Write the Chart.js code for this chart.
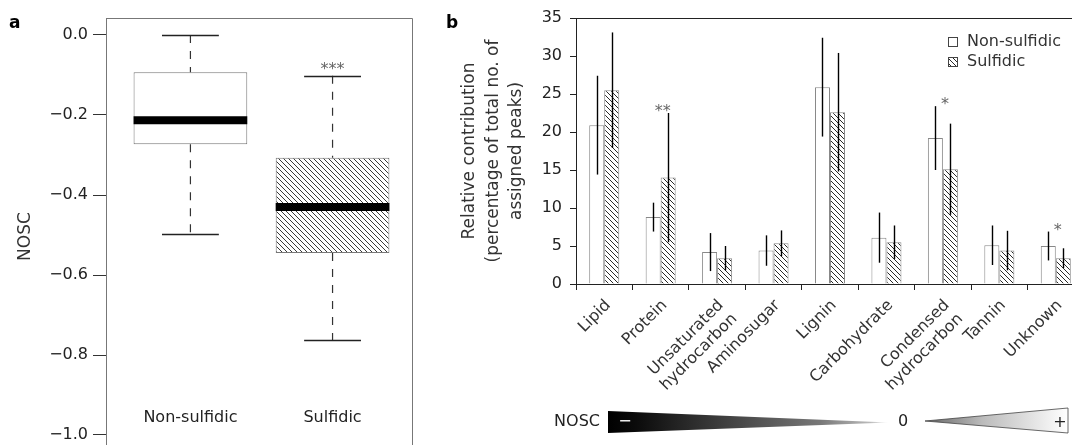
<!DOCTYPE html>
<html><head><meta charset="utf-8">
<script src="https://cdn.jsdelivr.net/npm/chart.js@4.4.0/dist/chart.umd.min.js"></script>
<style>
html,body{margin:0;padding:0;background:#fff;overflow:hidden;width:1072px;height:445px;}
#wrap{position:relative;width:1072px;height:445px;overflow:hidden;background:#fff;}
#ca{position:absolute;left:0;top:0;}
#cb{position:absolute;left:440px;top:0;}
</style></head>
<body><div id="wrap"><canvas id="ca" width="440" height="455"></canvas><canvas id="cb" width="654" height="445"></canvas></div>
<script>
// ---------- Panel a data (box plot of NOSC) ----------
const boxCategories = ['Non-sulfidic', 'Sulfidic'];
const boxPositions = [1, 2];
const boxWhiskerLow = [-0.498, -0.763];
const boxQ1 = [-0.273, -0.545];
const boxMedian = [-0.213, -0.430];
const boxQ3 = [-0.093, -0.307];
const boxWhiskerHigh = [0.0, -0.102];
const boxSignificance = ['', '***'];
const noscTicks = [0.0, -0.2, -0.4, -0.6, -0.8, -1.0];

// ---------- Panel b data (relative contribution) ----------
const compoundClasses = [['Lipid'], ['Protein'], ['Unsaturated', 'hydrocarbon'], ['Aminosugar'], ['Lignin'], ['Carbohydrate'], ['Condensed', 'hydrocarbon'], ['Tannin'], ['Unknown']];
const nonSulfidic    = [20.9, 8.8, 4.2, 4.4, 25.9, 6.1, 19.2, 5.1, 5.0];
const nonSulfidicErr = [6.5, 1.9, 2.5, 2.0, 6.5, 3.3, 4.2, 2.6, 1.9];
const sulfidic       = [25.5, 14.0, 3.4, 5.35, 22.6, 5.5, 15.1, 4.4, 3.4];
const sulfidicErr    = [7.6, 8.5, 1.6, 1.7, 7.8, 2.2, 6.0, 2.6, 1.3];
const significance   = ['', '**', '', '', '', '', '*', '', '*'];
const seriesNames    = ['Non-sulfidic', 'Sulfidic'];
const yTitleB = ['Relative contribution', '(percentage of total no. of', 'assigned peaks)'];

const FONT = 'DejaVu Sans';

function makeHatch(s, color, lw) {
  const c = document.createElement('canvas');
  c.width = s; c.height = s;
  const g = c.getContext('2d');
  g.fillStyle = '#fff'; g.fillRect(0, 0, s, s);
  g.strokeStyle = color; g.lineWidth = lw;
  g.beginPath();
  g.moveTo(-1, -1); g.lineTo(s + 1, s + 1);
  g.moveTo(-1, s - 1); g.lineTo(1, s + 1);
  g.moveTo(s - 1, -1); g.lineTo(s + 1, 1);
  g.stroke();
  return c;
}

// ================= Panel a =================
const ctxA = document.getElementById('ca').getContext('2d');
const hatchA = ctxA.createPattern(makeHatch(5, '#3a3a3a', 1), 'repeat');

const boxPlugin = {
  id: 'boxPlugin',
  afterDatasetsDraw(chart) {
    const {ctx, chartArea: ca, scales: {y}} = chart;
    const meta = chart.getDatasetMeta(0);
    ctx.save();
    meta.data.forEach((el, i) => {
      const cx = el.x, half = el.width / 2;
      // dashed whiskers
      ctx.strokeStyle = '#333'; ctx.lineWidth = 1.2; ctx.setLineDash([8, 8]);
      ctx.beginPath();
      ctx.moveTo(cx, y.getPixelForValue(boxWhiskerHigh[i])); ctx.lineTo(cx, y.getPixelForValue(boxQ3[i]));
      ctx.moveTo(cx, y.getPixelForValue(boxQ1[i])); ctx.lineTo(cx, y.getPixelForValue(boxWhiskerLow[i]));
      ctx.stroke();
      ctx.setLineDash([]);
      // caps
      ctx.lineWidth = 1.3; ctx.strokeStyle = '#222';
      ctx.beginPath();
      [boxWhiskerHigh[i], boxWhiskerLow[i]].forEach(v => {
        const py = Math.round(y.getPixelForValue(v)) + 0.5;
        ctx.moveTo(cx - half / 2, py); ctx.lineTo(cx + half / 2, py);
      });
      ctx.stroke();
      // median
      ctx.lineWidth = 8; ctx.strokeStyle = '#000';
      ctx.beginPath();
      const my = y.getPixelForValue(boxMedian[i]);
      ctx.moveTo(cx - half, my); ctx.lineTo(cx + half, my);
      ctx.stroke();
      // category label
      ctx.fillStyle = '#222'; ctx.font = '16px "' + FONT + '"';
      ctx.textAlign = 'center'; ctx.textBaseline = 'middle';
      ctx.fillText(boxCategories[i], cx, y.getPixelForValue(-1.0) - 17);
      // significance
      if (boxSignificance[i]) {
        ctx.fillStyle = '#666'; ctx.textBaseline = 'alphabetic';
        ctx.fillText(boxSignificance[i], cx, y.getPixelForValue(boxWhiskerHigh[i]) - 2);
      }
    });
    // frame
    ctx.strokeStyle = '#777'; ctx.lineWidth = 1;
    ctx.beginPath();
    ctx.moveTo(ca.left + 0.5, ca.bottom); ctx.lineTo(ca.left + 0.5, ca.top + 0.5);
    ctx.lineTo(ca.right - 0.5, ca.top + 0.5); ctx.lineTo(ca.right - 0.5, ca.bottom);
    ctx.stroke();
    // panel letter
    ctx.fillStyle = '#000'; ctx.font = 'bold 17px "' + FONT + '"';
    ctx.textAlign = 'left'; ctx.textBaseline = 'alphabetic';
    ctx.fillText('a', 9, 28);
    ctx.restore();
  }
};

new Chart(ctxA, {
  type: 'bar',
  data: {
    datasets: [{
      label: 'NOSC',
      data: boxPositions.map((x, i) => ({x: x, y: [boxQ1[i], boxQ3[i]]})),
      backgroundColor: ['#ffffff', hatchA],
      borderColor: '#777',
      borderWidth: 1,
      borderSkipped: false,
      barPercentage: 1,
      categoryPercentage: 0.8
    }]
  },
  options: {
    responsive: false, animation: false, devicePixelRatio: 1,
    layout: {padding: {left: 0, top: 18, right: 27, bottom: 0}},
    plugins: {legend: {display: false}, tooltip: {enabled: false}},
    scales: {
      x: {
        type: 'linear', min: 0.406, max: 2.566, display: false, offset: false,
        afterBuildTicks: s => { s.ticks = boxPositions.map(v => ({value: v})); }
      },
      y: {
        min: -1.05, max: 0.0425,
        afterBuildTicks: s => { s.ticks = noscTicks.map(v => ({value: v})); },
        afterFit: s => { s.width = 106; s.paddingTop = 0; s.paddingBottom = 0; },
        ticks: {
          color: '#222', padding: 5, font: {family: FONT, size: 16},
          callback: v => (Math.abs(v) < 1e-9 ? '0.0' : v.toFixed(1).replace('-', '\u2212'))
        },
        grid: {drawOnChartArea: false, tickLength: 13, color: '#333'},
        border: {color: '#777'},
        title: {display: true, text: 'NOSC', color: '#333', font: {family: FONT, size: 17}, padding: {top: 15, bottom: 0}}
      }
    }
  },
  plugins: [boxPlugin]
});

// ================= Panel b =================
const ctxB = document.getElementById('cb').getContext('2d');
const hatchB = ctxB.createPattern(makeHatch(5, '#2a2a2a', 1), 'repeat');
const errs = [nonSulfidicErr, sulfidicErr];

const panelBPlugin = {
  id: 'panelB',
  afterDatasetsDraw(chart) {
    const {ctx, chartArea: ca, scales: {x, y}} = chart;
    ctx.save();
    // top border
    ctx.strokeStyle = '#222'; ctx.lineWidth = 1;
    ctx.beginPath(); ctx.moveTo(ca.left, ca.top + 0.5); ctx.lineTo(ca.right, ca.top + 0.5); ctx.stroke();
    // error bars
    ctx.strokeStyle = '#000'; ctx.lineWidth = 1.4;
    chart.data.datasets.forEach((ds, d) => {
      const meta = chart.getDatasetMeta(d);
      meta.data.forEach((el, i) => {
        const v = ds.data[i], e = errs[d][i];
        const px = Math.round(el.x) + 0.5;
        ctx.beginPath();
        ctx.moveTo(px, y.getPixelForValue(v + e));
        ctx.lineTo(px, y.getPixelForValue(Math.max(0, v - e)));
        ctx.stroke();
      });
    });
    // significance
    ctx.fillStyle = '#666'; ctx.font = '16px "' + FONT + '"';
    ctx.textAlign = 'center'; ctx.textBaseline = 'alphabetic';
    significance.forEach((s, i) => {
      if (!s) return;
      const top = Math.max(nonSulfidic[i] + nonSulfidicErr[i], sulfidic[i] + sulfidicErr[i]);
      ctx.fillText(s, x.getPixelForValue(i) + 2, y.getPixelForValue(top) + 3);
    });
    // legend
    const lx = ca.left + 372, ly = 42;
    chart.data.datasets.forEach((ds, d) => {
      const cy = ly + d * 20;
      ctx.fillStyle = ds.backgroundColor;
      ctx.fillRect(lx, cy - 5, 9, 10);
      ctx.strokeStyle = '#444'; ctx.lineWidth = 1;
      ctx.strokeRect(lx + 0.5, cy - 4.5, 9, 9);
      ctx.fillStyle = '#333'; ctx.font = '16px "' + FONT + '"';
      ctx.textAlign = 'left'; ctx.textBaseline = 'middle';
      ctx.fillText(ds.label, lx + 19, cy);
    });
    // NOSC gradient bar
    ctx.font = '16px "' + FONT + '"';
    ctx.fillStyle = '#222'; ctx.textAlign = 'right'; ctx.textBaseline = 'middle';
    ctx.fillText('NOSC', 160, 422);
    let g = ctx.createLinearGradient(168, 0, 450, 0);
    g.addColorStop(0, '#000'); g.addColorStop(0.1, '#0b0b0b'); g.addColorStop(0.75, '#777');
    g.addColorStop(0.93, '#bbb'); g.addColorStop(1, '#fff');
    ctx.fillStyle = g;
    ctx.beginPath(); ctx.moveTo(168, 411); ctx.lineTo(449, 422.5); ctx.lineTo(168, 433); ctx.closePath(); ctx.fill();
    ctx.fillStyle = '#fff'; ctx.textAlign = 'center';
    ctx.fillText('\u2212', 185, 422);
    ctx.fillStyle = '#222';
    ctx.fillText('0', 463, 422);
    g = ctx.createLinearGradient(485, 0, 628, 0);
    g.addColorStop(0, '#666'); g.addColorStop(0.4, '#bbb'); g.addColorStop(1, '#fff');
    ctx.fillStyle = g;
    ctx.beginPath(); ctx.moveTo(485, 421); ctx.lineTo(628, 408); ctx.lineTo(628, 433); ctx.closePath(); ctx.fill();
    ctx.strokeStyle = '#444'; ctx.lineWidth = 0.8; ctx.stroke();
    ctx.fillStyle = '#222'; ctx.fillText('+', 620, 423);
    // panel letter
    ctx.fillStyle = '#000'; ctx.font = 'bold 17px "' + FONT + '"';
    ctx.textAlign = 'left'; ctx.textBaseline = 'alphabetic';
    ctx.fillText('b', 6, 28);
    ctx.restore();
  }
};

new Chart(ctxB, {
  type: 'bar',
  data: {
    labels: compoundClasses,
    datasets: [
      {label: seriesNames[0], data: nonSulfidic, backgroundColor: '#ffffff', borderColor: '#888', borderWidth: 1},
      {label: seriesNames[1], data: sulfidic, backgroundColor: hatchB, borderColor: '#888', borderWidth: 1}
    ]
  },
  options: {
    responsive: false, animation: false, devicePixelRatio: 1,
    layout: {padding: {left: 0, top: 18, right: 10, bottom: 0}},
    datasets: {bar: {barPercentage: 1, categoryPercentage: 0.532}},
    plugins: {legend: {display: false}, tooltip: {enabled: false}},
    scales: {
      x: {
        offset: true,
        afterFit: s => { s.height = 161; },
        ticks: {maxRotation: 45, minRotation: 45, autoSkip: false, color: '#333', font: {family: FONT, size: 16}, padding: 6, labelOffset: 4},
        grid: {display: true, drawOnChartArea: false, drawTicks: true, tickLength: 6, color: '#222', offset: true},
        border: {display: true, color: '#222'}
      },
      y: {
        min: 0, max: 35,
        afterFit: s => { s.width = 136; },
        ticks: {stepSize: 5, color: '#222', padding: 8, font: {family: FONT, size: 16}},
        grid: {drawOnChartArea: false, tickLength: 6, color: '#222'},
        border: {color: '#222'},
        title: {display: true, text: yTitleB, color: '#333', font: {family: FONT, size: 17, lineHeight: 1.38}, padding: {top: 18, bottom: 0}}
      }
    }
  },
  plugins: [panelBPlugin]
});
</script>
</body></html>
